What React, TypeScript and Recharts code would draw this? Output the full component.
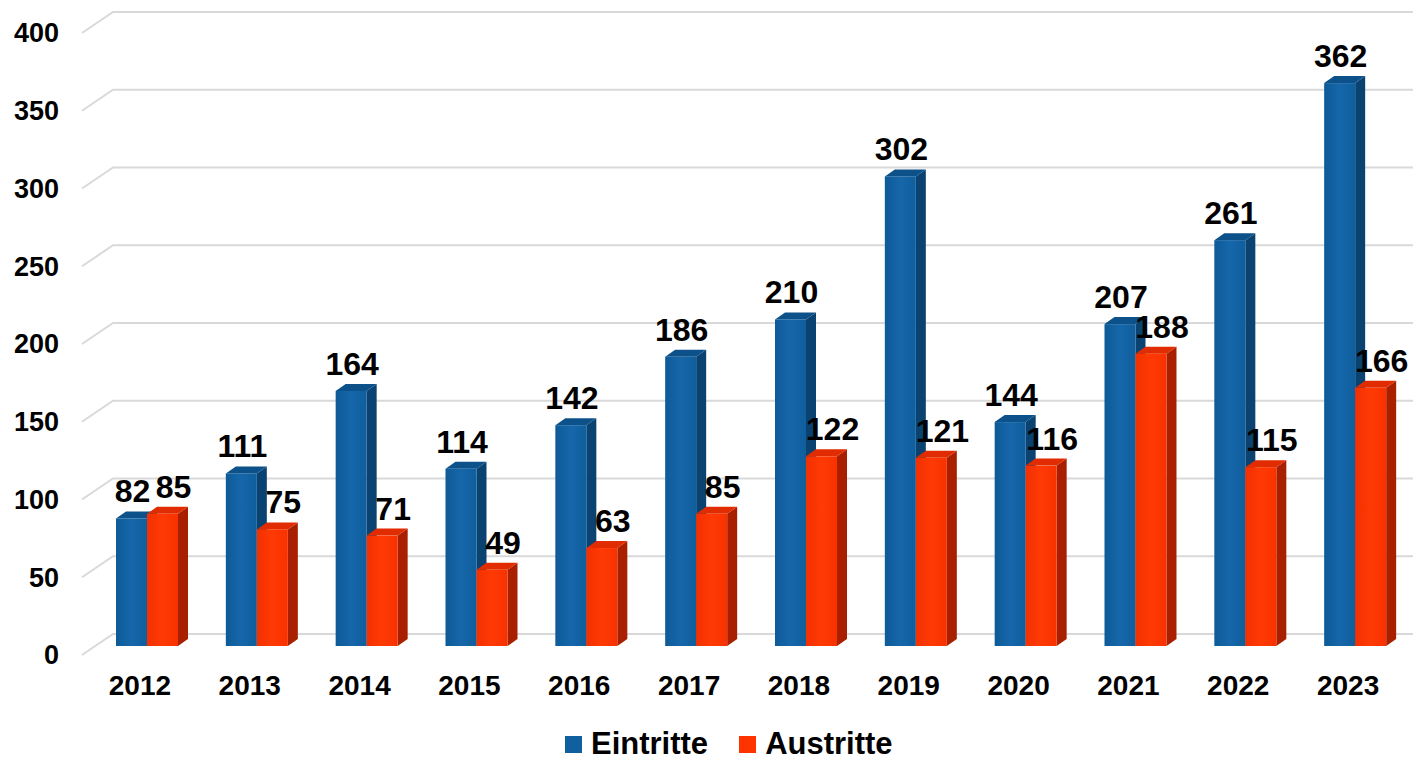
import { BarChart, Bar, XAxis, YAxis, CartesianGrid, Legend, LabelList } from 'recharts'

const years = ['2012', '2013', '2014', '2015', '2016', '2017', '2018', '2019', '2020', '2021', '2022', '2023']
const eintritte = [82, 111, 164, 114, 142, 186, 210, 302, 144, 207, 261, 362]
const austritte = [85, 75, 71, 49, 63, 85, 122, 121, 116, 188, 115, 166]
const yTicks = [0, 50, 100, 150, 200, 250, 300, 350, 400]

const data = years.map((year, i) => ({ year, eintritte: eintritte[i], austritte: austritte[i] }))

const FONT = '"Liberation Sans", Arial, Helvetica, sans-serif'
const DEPTH_X = 10
const DEPTH_Y = 7

interface FaceColors {
  grad: string
  top: string
  side: string
}

const blueFaces: FaceColors = { grad: 'url(#frontBlue)', top: '#0c5189', side: '#0a4271' }
const redFaces: FaceColors = { grad: 'url(#frontRed)', top: '#e02c00', side: '#a82000' }

const bar3d = (c: FaceColors) => (props: any) => {
  const { x, y, width: w, height: h } = props
  if (!h || h <= 0) return <g />
  const top = `M${x},${y} L${x + DEPTH_X},${y - DEPTH_Y} L${x + w + DEPTH_X},${y - DEPTH_Y} L${x + w},${y} Z`
  const side = `M${x + w},${y} L${x + w + DEPTH_X},${y - DEPTH_Y} L${x + w + DEPTH_X},${y + h - DEPTH_Y} L${x + w},${y + h} Z`
  return (
    <g>
      <path d={side} fill={c.side} />
      <path d={top} fill={c.top} />
      <rect x={x} y={y} width={w} height={h} fill={c.grad} />
    </g>
  )
}

const valueLabel = (shift: number) => (props: any) => {
  const vb = props.viewBox ?? {}
  const x = Number(vb.x ?? props.x)
  const y = Number(vb.y ?? props.y)
  const w = Number(vb.width ?? props.width)
  return (
    <text x={x + w / 2 + shift} y={y - 16} textAnchor="middle" fontSize={32} fontWeight="bold" fill="#000" fontFamily={FONT}>
      {props.value}
    </text>
  )
}

// slanted floor-to-wall grid lines
const gridLine = (props: any) => {
  const { x1, x2, y1, index } = props
  return (
    <path
      key={`g-${index}`}
      d={`M${x1 - 10},${y1 + 9} L${x1 + 21},${y1 - 12} L${x2 + 3},${y1 - 12}`}
      stroke="#d9d9d9"
      strokeWidth={2}
      fill="none"
    />
  )
}

const YTick = (props: any) => {
  const { x, y, payload } = props
  return (
    <text x={x - 25} y={y + 9} dy="0.35em" textAnchor="end" fontSize={27} fontWeight="bold" fill="#000" fontFamily={FONT}>
      {payload.value}
    </text>
  )
}

const XTick = (props: any) => {
  const { x, y, payload } = props
  return (
    <text x={x - 7} y={y + 41} textAnchor="middle" fontSize={28} fontWeight="bold" fill="#000" fontFamily={FONT}>
      {payload.value}
    </text>
  )
}

const legendItems = [
  { label: 'Eintritte', color: '#1060a0' },
  { label: 'Austritte', color: '#ff3300' },
]

const LegendContent = () => (
  <div style={{ display: 'flex', alignItems: 'center', height: 44, fontFamily: FONT, transform: 'translateY(6px)' }}>
    {legendItems.map((it, i) => (
      <div key={it.label} style={{ display: 'flex', alignItems: 'center', marginLeft: i ? 31 : 0 }}>
        <span style={{ width: 17, height: 17, background: it.color, display: 'inline-block', marginRight: 9 }} />
        <span style={{ fontSize: 31, fontWeight: 'bold', color: '#000' }}>{it.label}</span>
      </div>
    ))}
  </div>
)

export default function App() {
  return (
    <div style={{ position: 'absolute', left: 0, top: 0, width: 1413, height: 760, background: '#fff' }}>
      <BarChart width={1413} height={760} data={data} barGap={0} barSize={31} margin={{ top: 24, right: 3, left: 0, bottom: 0 }}>
        <defs>
          <linearGradient id="frontBlue" x1="0" y1="0" x2="1" y2="0">
            <stop offset="0%" stopColor="#0d5a97" />
            <stop offset="50%" stopColor="#1667aa" />
            <stop offset="100%" stopColor="#0f5e9d" />
          </linearGradient>
          <linearGradient id="frontRed" x1="0" y1="0" x2="1" y2="0">
            <stop offset="0%" stopColor="#f23000" />
            <stop offset="50%" stopColor="#ff3a05" />
            <stop offset="100%" stopColor="#f73200" />
          </linearGradient>
        </defs>
        <CartesianGrid vertical={false} horizontal={gridLine} />
        <XAxis dataKey="year" height={70} axisLine={false} tickLine={false} tick={<XTick />} interval={0} />
        <YAxis width={92} domain={[0, 400]} ticks={yTicks} axisLine={false} tickLine={false} tick={<YTick />} />
        <Legend
          verticalAlign="bottom"
          content={<LegendContent />}
          wrapperStyle={{ left: 565, bottom: 0, width: 'auto', height: 44 }}
        />
        <Bar dataKey="eintritte" name="Eintritte" shape={bar3d(blueFaces)} isAnimationActive={false}>
          <LabelList dataKey="eintritte" content={valueLabel(1)} />
        </Bar>
        <Bar dataKey="austritte" name="Austritte" shape={bar3d(redFaces)} isAnimationActive={false}>
          <LabelList dataKey="austritte" content={valueLabel(11)} />
        </Bar>
      </BarChart>
    </div>
  )
}
